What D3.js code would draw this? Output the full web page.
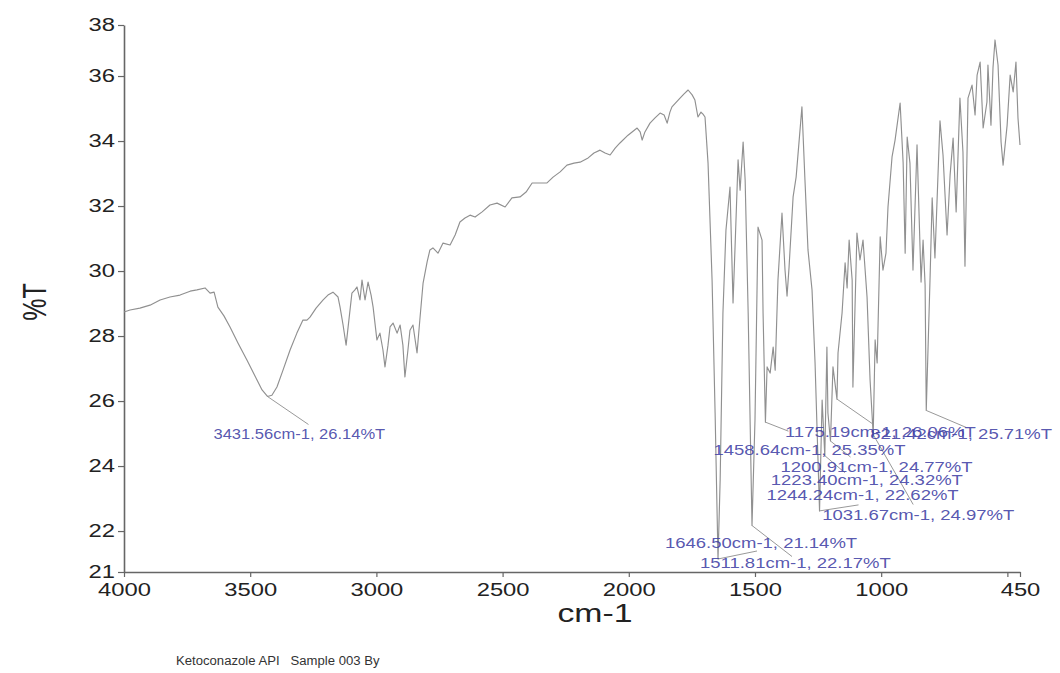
<!DOCTYPE html>
<html>
<head>
<meta charset="utf-8">
<script src="https://cdn.jsdelivr.net/npm/d3@7"></script>
<style>
  html, body { margin: 0; padding: 0; background: #fff; }
  text { font-family: "Liberation Sans", Arial, sans-serif; }
</style>
</head>
<body>
<div id="chart"></div>
<script>
////////////////////////////////////////////////////////////////////////////////
// Data

var wavenumber = [4000,3976,3937,3897,3857,3818,3778,3738,3711,3679,
  3659,3643,3628,3604,3580,3548,3513,3477,3453,3431.56,
  3414,3394,3370,3342,3315,3291,3275,3263,3239,3211,
  3192,3172,3152,3144,3132,3120,3109,3097,3085,3077,
  3065,3057,3045,3033,3021,3013,2998,2986,2974,2966,
  2954,2946,2934,2918,2906,2895,2887,2875,2867,2855,
  2839,2827,2815,2799,2788,2776,2756,2736,2708,2688,
  2669,2649,2629,2609,2581,2550,2522,2490,2463,2431,
  2407,2383,2352,2324,2300,2272,2245,2217,2193,2161,
  2138,2114,2094,2074,2054,2035,2003,1967,1955,1947,
  1936,1916,1896,1876,1860,1848,1837,1829,1797,1781,
  1765,1749,1738,1726,1714,1706,1698,1686,1670,1658,
  1646.5,1638,1627,1615,1599,1587,1579,1567,1559,1547,
  1539,1527,1511.81,1500,1488,1472,1468,1458.64,1452,1440,
  1428,1420,1409,1393,1381,1373,1365,1349,1337,1314,
  1302,1290,1274,1262,1244.24,1234,1223.4,1215,1211,1200.91,
  1191,1175.19,1171,1155,1143,1135,1127,1115,1112,1096,
  1084,1072,1056,1044,1031.67,1024,1016,1004,993,981,
  973,957,945,925,913,905,897,886,874,858,
  842,834,826,821.42,806,798,787,767,755,739,
  727,715,703,688,676,668,656,640,628,620,
  608,596,581,577,565,557,549,537,525,517,
  501,489,477,466,458,450];

var transmittance = [28.74,28.80,28.86,28.95,29.11,29.20,29.26,29.38,29.42,29.48,
  29.32,29.35,28.89,28.62,28.28,27.78,27.26,26.71,26.34,26.14,
  26.18,26.43,26.95,27.57,28.09,28.49,28.49,28.58,28.86,29.11,
  29.26,29.35,29.20,28.89,28.34,27.72,28.49,29.32,29.42,29.51,
  29.11,29.72,29.11,29.66,29.26,28.89,27.88,28.09,27.57,27.05,
  27.72,28.28,28.40,28.09,28.34,27.72,26.74,27.57,28.18,28.34,
  27.48,28.58,29.63,30.28,30.65,30.71,30.55,30.86,30.80,31.11,
  31.51,31.63,31.72,31.66,31.82,32.03,32.09,31.97,32.25,32.28,
  32.43,32.71,32.71,32.71,32.89,33.05,33.26,33.32,33.35,33.48,
  33.63,33.72,33.63,33.57,33.78,33.94,34.18,34.40,34.28,34.03,
  34.28,34.55,34.71,34.86,34.80,34.55,34.89,35.05,35.32,35.45,
  35.57,35.42,35.26,34.74,34.89,34.83,34.74,33.32,29.72,25.63,
  21.14,23.57,28.71,31.26,32.58,29.02,30.74,33.42,32.49,33.97,
  32.80,28.71,22.17,25.42,31.35,30.95,28.71,25.35,27.05,26.86,
  27.66,26.95,29.72,31.78,30.03,29.23,30.12,32.28,32.89,35.05,
  32.80,30.65,29.42,27.17,22.62,26.03,24.32,27.66,25.63,24.77,
  27.05,26.06,27.48,28.71,30.25,29.48,30.95,29.72,26.43,31.17,
  30.34,30.95,29.20,26.65,24.97,27.88,27.17,31.05,30.03,30.55,
  31.97,33.51,34.03,35.17,33.32,30.55,34.12,33.32,30.03,33.88,
  29.66,30.95,29.57,25.71,29.88,32.25,30.40,34.62,33.57,31.11,
  32.95,34.09,31.82,35.32,33.66,30.15,35.32,35.72,34.80,36.03,
  36.43,34.40,35.20,36.34,34.49,36.25,37.11,36.34,33.97,33.26,
  34.49,36.03,35.51,36.43,34.71,33.88];

// picked peaks
var peak_wn = [3431.56, 1646.50, 1511.81, 1458.64, 1244.24, 1223.40, 1200.91, 1175.19, 1031.67, 821.42];
var peak_t  = [26.14, 21.14, 22.17, 25.35, 22.62, 24.32, 24.77, 26.06, 24.97, 25.71];

// axis ticks
var x_ticks = [4000, 3500, 3000, 2500, 2000, 1500, 1000, 500, 450];
var x_tick_labels = ["4000", "3500", "3000", "2500", "2000", "1500", "1000", "", "450"];
var y_ticks = [20.74, 22, 24, 26, 28, 30, 32, 34, 36, 37.57];
var y_tick_labels = ["21", "22", "24", "26", "28", "30", "32", "34", "36", "38"];

var x_title = "cm-1";
var y_title = "%T";
var footer = "Ketoconazole API   Sample 003 By";

////////////////////////////////////////////////////////////////////////////////
// Layout

var width = 1060, height = 673;
var margin = {left: 124, right: 40, top: 25, bottom: 101};
var stretch_k = 1.32;     // scan is stretched sideways, text too

// label placement, relative to the peak point (pixels)
var label_dx   = [-54, -53, -52, -52, -53, -54, -50, -52, -51, -56];
var label_dy   = [37.5, -16, 37.5, 28, -16, 24, 26, 33, 80.5, 23];
var label_k    = [1.18, 1.32, 1.32, 1.32, 1.32, 1.32, 1.32, 1.32, 1.32, 1.32];
var leader_end = [[41, 28], [39, -8], [40, 31], [23, 9], [39, -6], [20, 17], [20, 16], [36, 25], [40, 70], [40, 17]];

var svg = d3.select("#chart").append("svg")
    .attr("width", width).attr("height", height);
svg.append("rect").attr("width", width).attr("height", height).attr("fill", "#fff");

var scale_X = d3.scaleLinear().domain([4000, 450]).range([margin.left, width - margin.right]);
var scale_Y = d3.scaleLinear().domain([20.74, 37.57]).range([height - margin.bottom, margin.top]);

function stretch(sel, k) {
  sel.each(function(d, i) {
    var kk = (typeof k === "function") ? k(d, i) : k;
    var w = this.getComputedTextLength();
    d3.select(this).attr("textLength", w * kk).attr("lengthAdjust", "spacingAndGlyphs");
  });
}

// axes
var x_axis = d3.axisBottom(scale_X).tickValues(x_ticks)
    .tickFormat(function(d, i) { return x_tick_labels[i]; })
    .tickSize(5).tickSizeOuter(0).tickPadding(6);
var y_axis = d3.axisLeft(scale_Y).tickValues(y_ticks)
    .tickFormat(function(d, i) { return y_tick_labels[i]; })
    .tickSize(6).tickSizeOuter(0).tickPadding(3);

var gx = svg.append("g").attr("class", "x axis")
    .attr("transform", "translate(0," + (height - margin.bottom) + ")").call(x_axis);
var gy = svg.append("g").attr("class", "y axis")
    .attr("transform", "translate(" + margin.left + ",0)").call(y_axis);

[gx, gy].forEach(function(g) {
  g.select(".domain").attr("stroke", "#666").attr("stroke-width", 1.6);
  g.selectAll(".tick line").attr("stroke", "#666").attr("stroke-width", 1.2);
  g.selectAll(".tick text").attr("fill", "#222").style("font-size", "18px");
});
stretch(gx.selectAll(".tick text"), stretch_k);
stretch(gy.selectAll(".tick text"), stretch_k);

// titles
svg.append("text").attr("x", (scale_X(4000) + scale_X(450)) / 2 + 23).attr("y", 622)
    .attr("text-anchor", "middle").attr("fill", "#222").style("font-size", "26px")
    .text(x_title).call(stretch, 1.3);

svg.append("text")
    .attr("transform", "translate(46,302) rotate(-90) scale(1,1.3)")
    .attr("text-anchor", "middle").attr("fill", "#222").style("font-size", "25px")
    .text(y_title);

svg.append("text").attr("x", 176).attr("y", 665)
    .attr("fill", "#333").style("font-size", "12.5px").style("white-space", "pre")
    .text(footer).call(stretch, 1.05);

// spectrum
var spectrum = wavenumber.map(function(w, i) { return {x: w, y: transmittance[i]}; });
var line = d3.line()
    .x(function(d) { return scale_X(d.x); })
    .y(function(d) { return scale_Y(d.y); });

svg.append("path").datum(spectrum)
    .attr("d", line)
    .attr("fill", "none").attr("stroke", "#909090").attr("stroke-width", 1.15)
    .attr("stroke-linejoin", "round");

// peak labels
var peaks = peak_wn.map(function(w, i) { return {wn: w, t: peak_t[i], i: i}; });
var g_peaks = svg.append("g").attr("class", "peaks");

g_peaks.selectAll(".leader").data(peaks).enter().append("line")
    .attr("class", "leader")
    .attr("x1", function(d) { return scale_X(d.wn); })
    .attr("y1", function(d) { return scale_Y(d.t); })
    .attr("x2", function(d) { return scale_X(d.wn) + leader_end[d.i][0]; })
    .attr("y2", function(d) { return scale_Y(d.t) + leader_end[d.i][1]; })
    .attr("stroke", "#999").attr("stroke-width", 1);

// 1175.19 and 821.42 sit on top of each other in the original print
g_peaks.selectAll(".peak_text").data(peaks).enter().append("text")
    .attr("class", "peak_text")
    .attr("x", function(d) { return scale_X(d.wn) + label_dx[d.i]; })
    .attr("y", function(d) { return scale_Y(d.t) + label_dy[d.i]; })
    .attr("dy", "0.36em")
    .attr("fill", "#4343a6").attr("fill-opacity", 0.9)
    .style("font-size", "14px")
    .text(function(d) { return d.wn.toFixed(2) + "cm-1, " + d.t.toFixed(2) + "%T"; })
    .call(stretch, function(d) { return label_k[d.i]; });
</script>
</body>
</html>
